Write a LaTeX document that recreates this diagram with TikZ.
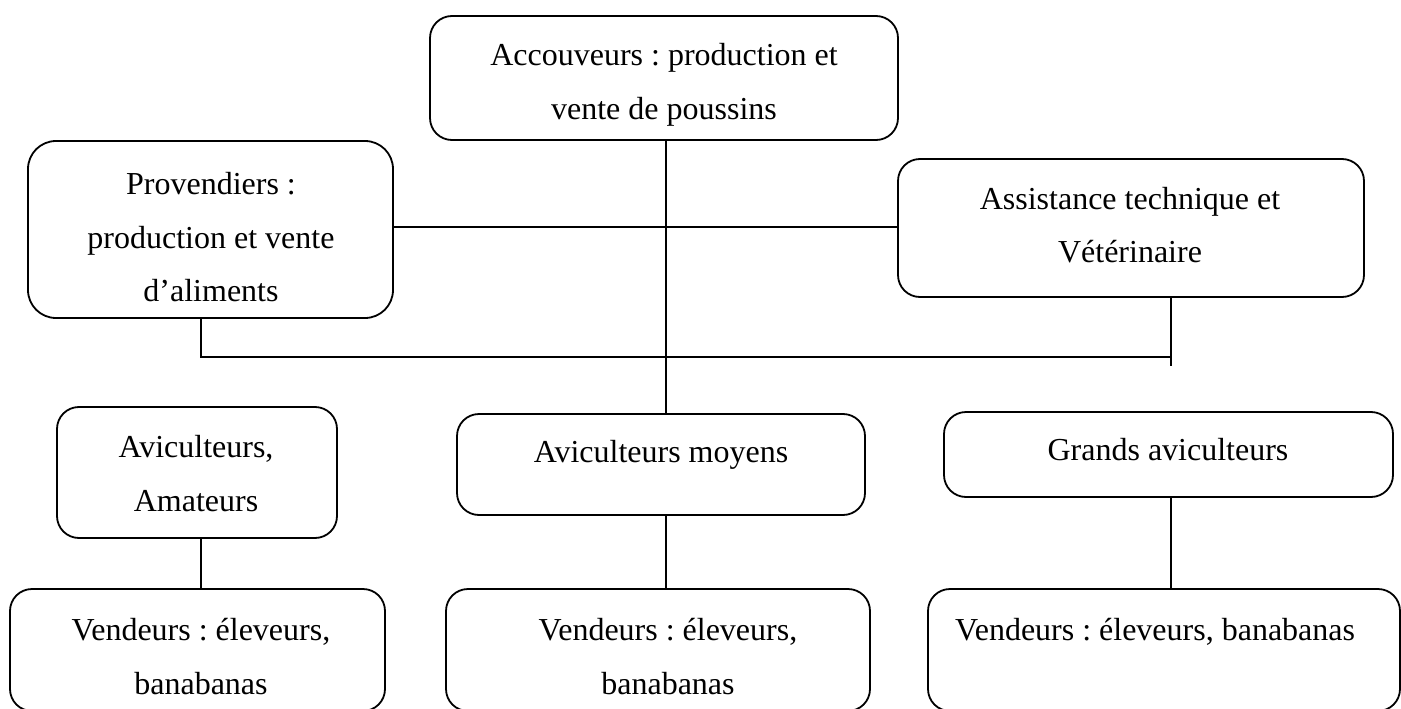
\documentclass[tikz,border=0pt]{standalone}
\usepackage{fontspec}
\setmainfont{Liberation Serif}
\frenchspacing
\begin{document}
\begin{tikzpicture}[x=1pt,y=-1pt,
  box/.style={draw,line width=1.8pt,rounded corners=22pt,inner sep=0pt,outer sep=0pt},
  txt/.style={anchor=base,inner sep=0pt,font=\fontsize{32}{38}\selectfont},
  conn/.style={line width=1.8pt}]
\useasboundingbox (0,0) rectangle (1401,709);
\clip (0,0) rectangle (1401,709);
% boxes
\node[box,minimum width=468pt,minimum height=124pt] (acc) at (664,78) {};
\node[box,rounded corners=28pt,minimum width=365pt,minimum height=177pt] (prov) at (210.5,229.5) {};
\node[box,minimum width=466pt,minimum height=138pt] (assist) at (1131,228) {};
\node[box,minimum width=280pt,minimum height=131pt] (amat) at (197,472.5) {};
\node[box,minimum width=408pt,minimum height=101pt] (moy) at (661,464.5) {};
\node[box,minimum width=449pt,minimum height=85pt] (grands) at (1168.5,454.5) {};
\node[box,minimum width=375pt,minimum height=122pt] (vL) at (197.5,650) {};
\node[box,minimum width=424pt,minimum height=122pt] (vM) at (658,650) {};
\node[box,minimum width=472pt,minimum height=122pt] (vR) at (1164,650) {};
% texts
\node[txt] (acc1) at (664,66) {Accouveurs : production et};
\node[txt] (acc2) at (664,120) {vente de poussins};
\node[txt] (prov1) at (211,194) {Provendiers :};
\node[txt] (prov2) at (211,248) {production et vente};
\node[txt] (prov3) at (211,301) {d’aliments};
\node[txt] (as1) at (1130,209) {Assistance technique et};
\node[txt] (as2) at (1130,262) {Vétérinaire};
\node[txt] (am1) at (196,457) {Aviculteurs,};
\node[txt] (am2) at (196,511) {Amateurs};
\node[txt] (moy1) at (661,462) {Aviculteurs moyens};
\node[txt] (gr1) at (1168,460) {Grands aviculteurs};
\node[txt] (vL1) at (201,640) {Vendeurs : éleveurs,};
\node[txt] (vL2) at (201,694) {banabanas};
\node[txt] (vM1) at (668,640) {Vendeurs : éleveurs,};
\node[txt] (vM2) at (668,694) {banabanas};
\node[txt,anchor=base west] (vR1) at (955,640) {Vendeurs : éleveurs, banabanas};
% connector coordinates
\coordinate (hl) at (0,227);
\coordinate (busL) at (201,357);
\coordinate (busR) at (1171,357);
\coordinate (busRe) at (1171,366);
\coordinate (vx) at (666,0);
% connectors
\draw[conn] (acc.south -| vx) -- (moy.north -| vx);
\draw[conn] (prov.east |- hl) -- (assist.west |- hl);
\draw[conn] (prov.south -| busL) -- (busL) -- (busR);
\draw[conn] (assist.south -| busRe) -- (busRe);
\draw[conn] (amat.south -| busL) -- (vL.north -| busL);
\draw[conn] (moy.south -| vx) -- (vM.north -| vx);
\draw[conn] (grands.south -| busR) -- (vR.north -| busR);
\end{tikzpicture}
\end{document}
